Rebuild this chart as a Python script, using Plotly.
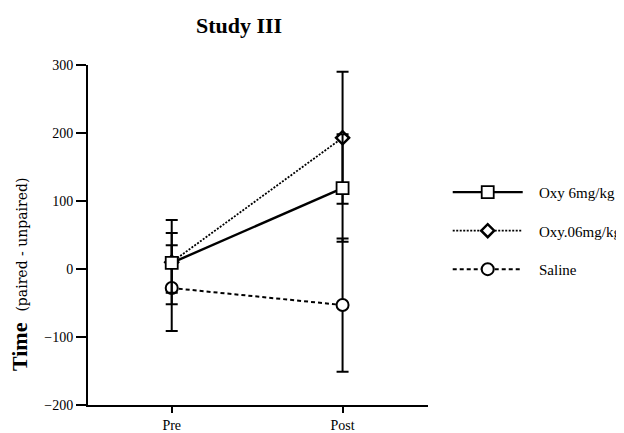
import plotly.graph_objects as go

categories = ["Pre", "Post"]
oxy6_mean = [9, 119]
oxy6_err = [44, 79]
oxy06_mean = [10, 193]
oxy06_err = [62, 97]
saline_mean = [-28, -53]
saline_err = [63, 98]

series_names = ["Oxy 6mg/kg", "Oxy.06mg/kg", "Saline"]
y_ticks = [-200, -100, 0, 100, 200, 300]

FONT = "Liberation Serif, Times New Roman, serif"
PAD = "\u00a0\u00a0\u00a0"

fig = go.Figure()

def add(name, mean, err, dash, symbol, size, mlw, rank, lw):
    fig.add_trace(go.Scatter(
        x=categories, y=mean, name=PAD + name, mode="lines+markers",
        legendgroup=name, legendrank=rank,
        line=dict(color="black", width=lw, dash=dash),
        marker=dict(symbol=symbol, size=size, color="white",
                    line=dict(color="black", width=mlw)),
        error_y=dict(type="data", array=err, visible=True, color="black",
                     thickness=2, width=6),
    ))

add(series_names[2], saline_mean, saline_err, "4px,3px", "circle", 12, 2, 3, 2)
add(series_names[1], oxy06_mean, oxy06_err, "2px,1.5px", "diamond", 10, 2.5, 2, 1.8)
add(series_names[0], oxy6_mean, oxy6_err, "solid", "square", 12, 1.8, 1, 2.4)

fig.update_layout(
    width=624, height=433,
    paper_bgcolor="white", plot_bgcolor="white",
    margin=dict(l=80, r=204, t=57, b=36, autoexpand=False),
    font=dict(family=FONT, color="black", size=14),
    title=dict(text="<b>Study III</b>", x=231/624, xanchor="center",
               y=1 - 17/433, yanchor="middle", yref="container",
               font=dict(size=22, family=FONT, color="black")),
    showlegend=True,
    legend=dict(x=1.058, y=0.512, xanchor="left", yanchor="middle",
                itemwidth=70, tracegroupgap=16,
                font=dict(size=15, family=FONT, color="black"),
                bgcolor="rgba(0,0,0,0)"),
    xaxis=dict(type="category", range=[-0.49, 1.5], showgrid=False, zeroline=False,
               showline=True, linecolor="black", linewidth=2,
               ticks="outside", ticklen=6, tickwidth=2, tickcolor="black",
               tickfont=dict(size=14, family=FONT)),
    yaxis=dict(range=[-200, 300], tickvals=y_ticks, showgrid=False, zeroline=False,
               showline=True, linecolor="black", linewidth=2,
               ticks="outside", ticklen=10, tickwidth=2, tickcolor="black",
               tickfont=dict(size=14, family=FONT)),
    annotations=[dict(
        text="<b>Time</b>  <span style='font-size:14px;font-family:DejaVu Serif'>(paired - unpaired)</span>",
        xref="paper", yref="paper", x=-0.203, y=0.385,
        xanchor="center", yanchor="middle", textangle=-90, showarrow=False,
        font=dict(size=22, family=FONT, color="black"))],
)

fig.write_html("out.html")
